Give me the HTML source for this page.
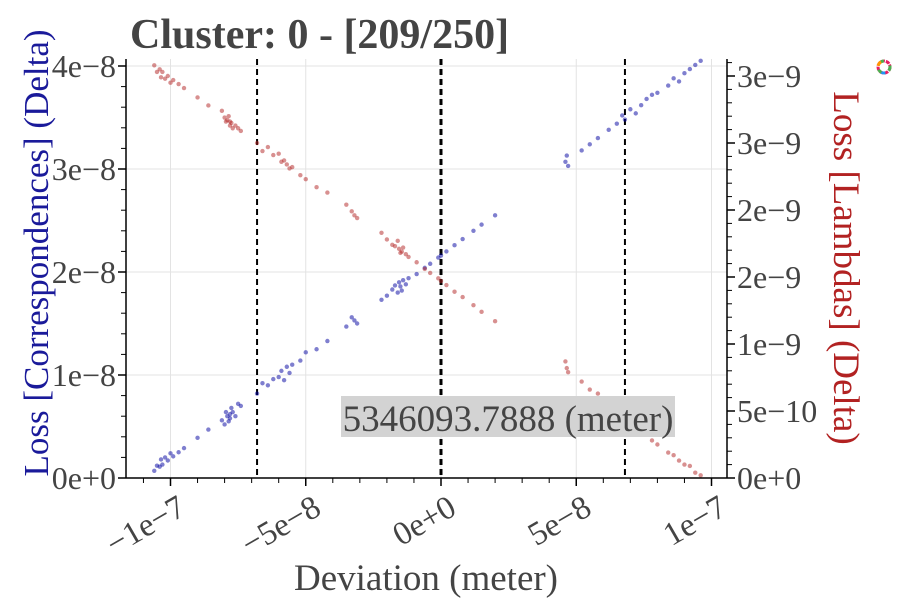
<!DOCTYPE html>
<html><head><meta charset="utf-8">
<style>
html,body{margin:0;padding:0;background:#fff;}
svg{display:block;font-family:"Liberation Serif",serif;}
</style></head>
<body>
<svg id="chart" width="900" height="600" viewBox="0 0 900 600" xmlns="http://www.w3.org/2000/svg">
<g id="grid"></g>
<g id="marks"></g>
<g id="axes"></g>
<text x="130" y="48" font-size="42" font-weight="bold" fill="#444">Cluster: 0 - [209/250]</text>
<text x="426" y="590" font-size="37" fill="#444" text-anchor="middle">Deviation (meter)</text>
<text transform="translate(48,253) rotate(-90)" font-size="35" fill="#1a1a9a" text-anchor="middle">Loss [Correspondences] (Delta)</text>
<text transform="translate(834,268) rotate(90)" font-size="37" fill="#b22222" text-anchor="middle">Loss [Lambdas] (Delta)</text>
<g>
<rect x="341" y="396" width="334" height="41" fill="#d3d3d3"/>
<text x="508" y="431" font-size="37" fill="#444" text-anchor="middle">5346093.7888 (meter)</text>
</g>
<g transform="translate(884,67)">
<circle r="6" fill="none" stroke="#e91e63" stroke-width="3" stroke-dasharray="4 1"/>
<circle r="6" fill="none" stroke="#4caf50" stroke-width="3" stroke-dasharray="4 8"/>
<circle r="6" fill="none" stroke="#2196f3" stroke-width="3" stroke-dasharray="0 8 4 26"/>
<circle r="6" fill="none" stroke="#ff9800" stroke-width="3" stroke-dasharray="0 20 5 20"/>
</g>
</svg>
<script>
const xVals = [-106,-105,-104,-103.5,-103,-102,-101,-100,-99,-97,-95,-90,-86,-81,-80,-79.5,-79,-78.5,-78,-78,-77.5,-77,-76,-75,-74,-68,-66,-64,-62,-60,-59,-58,-57,-56,-55,-52,-50,-46,-42,-35,-33,-32,-31,-22,-20,-18,-17,-16,-15.5,-15,-14.5,-14,-13,-12,-9,-6,-4,-1,0,2,5,8,12,15,20,46,46.5,47,52,55,58,62,65,67,68,70,72,74,76,78,80,84,86,88,90,92,94,96];
const blueVals = [0.07,0.12,0.11,0.18,0.13,0.20,0.17,0.24,0.21,0.25,0.29,0.39,0.47,0.56,0.52,0.64,0.60,0.55,0.62,0.58,0.68,0.64,0.60,0.72,0.70,0.82,0.92,0.90,0.96,0.98,1.04,0.95,1.08,1.02,1.10,1.14,1.22,1.25,1.33,1.47,1.56,1.53,1.50,1.73,1.77,1.83,1.87,1.80,1.90,1.86,1.82,1.92,1.88,1.94,1.98,2.04,2.08,2.14,2.16,2.20,2.26,2.32,2.40,2.46,2.55,3.07,3.13,3.03,3.18,3.24,3.30,3.38,3.44,3.52,3.48,3.58,3.54,3.62,3.68,3.72,3.74,3.81,3.88,3.85,3.93,3.97,4.01,4.05];
const redVals = [3.08,3.03,3.05,2.99,3.03,2.98,3.00,2.95,2.97,2.94,2.91,2.84,2.78,2.74,2.69,2.66,2.67,2.70,2.66,2.63,2.65,2.61,2.63,2.61,2.59,2.50,2.44,2.47,2.41,2.42,2.36,2.37,2.34,2.31,2.32,2.26,2.23,2.17,2.13,2.04,1.99,1.96,1.94,1.83,1.78,1.74,1.73,1.77,1.71,1.68,1.69,1.72,1.67,1.65,1.61,1.56,1.53,1.49,1.47,1.44,1.39,1.35,1.29,1.24,1.17,0.87,0.82,0.79,0.72,0.66,0.63,0.57,0.53,0.48,0.45,0.41,0.38,0.35,0.33,0.28,0.25,0.19,0.17,0.13,0.10,0.09,0.04,0.02];
const xTicks = [-100,-50,0,50,100];
const xTickLabels = ["\u22121e\u22127","\u22125e\u22128","0e+0","5e\u22128","1e\u22127"];
const yLeftTicks = [0,1,2,3,4];
const yLeftLabels = ["0e+0","1e\u22128","2e\u22128","3e\u22128","4e\u22128"];
const yRightTicks = [0,0.5,1,1.5,2,2.5,3];
const yRightLabels = ["0e+0","5e\u221210","1e\u22129","2e\u22129","2e\u22129","3e\u22129","3e\u22129"];
const vLines = [-68,0,68];

const L=126,R=727,T=59,B=478;
const xs = v => 441 + v*2.705;
const yl = v => 478 - v*103;
const yr = v => 478 - v*134;
const NS="http://www.w3.org/2000/svg";
function mk(tag, attrs, parent){const e=document.createElementNS(NS,tag);for(const k in attrs)e.setAttribute(k,attrs[k]);parent.appendChild(e);return e;}
const grid=document.getElementById('grid'),marks=document.getElementById('marks'),axes=document.getElementById('axes');

xTicks.forEach(t=>{const g=mk('line',{x1:xs(t),x2:xs(t),y1:T,y2:B,stroke:'#e3e3e3','stroke-width':1},grid);

});
yLeftTicks.forEach(t=>{const g=mk('line',{x1:L,x2:R,y1:yl(t),y2:yl(t),stroke:'#e3e3e3','stroke-width':1},grid);

});

vLines.forEach(v=>{const l=mk('line',{x1:xs(v),x2:xs(v),y1:T,y2:B,stroke:'#000','stroke-width':v===0?3:2,'stroke-dasharray':'6 4'},marks);

});

xVals.forEach((x,i)=>{
  const c=mk('circle',{cx:xs(x),cy:yl(blueVals[i]),r:2.2,fill:'rgba(0,0,160,0.5)'},marks);
  
  
  const d=mk('circle',{cx:xs(x),cy:yr(redVals[i]),r:2.2,fill:'rgba(178,34,34,0.5)'},marks);
  
  
});

mk('line',{x1:L,x2:L,y1:T,y2:B,stroke:'#000','stroke-width':1.5},axes);
mk('line',{x1:R,x2:R,y1:T,y2:B,stroke:'#000','stroke-width':1.5},axes);
mk('line',{x1:L,x2:R,y1:B,y2:B,stroke:'#000','stroke-width':1.5},axes);
for(let v=-110;v<=105;v+=10){const x=xs(v);if(x<L||x>R)continue;mk('line',{x1:x,x2:x,y1:B,y2:B+5,stroke:'#000'},axes);}
for(let v=0.2;v<4.2;v+=0.2){mk('line',{x1:L-5,x2:L,y1:yl(v),y2:yl(v),stroke:'#000'},axes);}
for(let v=0.1;v<3.15;v+=0.1){mk('line',{x1:R,x2:R+5,y1:yr(v),y2:yr(v),stroke:'#000'},axes);}
xTicks.forEach((t,i)=>{mk('line',{x1:xs(t),x2:xs(t),y1:B,y2:B+8,stroke:'#000','stroke-width':1.5},axes);
const tx=mk('text',{transform:`translate(${xs(t)+6},${B+16}) rotate(-30)`,'font-size':33,fill:'#444','text-anchor':'end','dominant-baseline':'hanging'},axes);
tx.textContent=xTickLabels[i];

});
yLeftTicks.forEach((t,i)=>{mk('line',{x1:L-8,x2:L,y1:yl(t),y2:yl(t),stroke:'#000','stroke-width':1.5},axes);
const tx=mk('text',{x:L-10,y:yl(t)+11,'font-size':32,fill:'#444','text-anchor':'end'},axes);
tx.textContent=yLeftLabels[i];

});
yRightTicks.forEach((t,i)=>{mk('line',{x1:R,x2:R+8,y1:yr(t),y2:yr(t),stroke:'#000','stroke-width':1.5},axes);
const tx=mk('text',{x:R+10,y:yr(t)+11,'font-size':32,fill:'#444'},axes);
tx.textContent=yRightLabels[i];

});
</script>
</body></html>
